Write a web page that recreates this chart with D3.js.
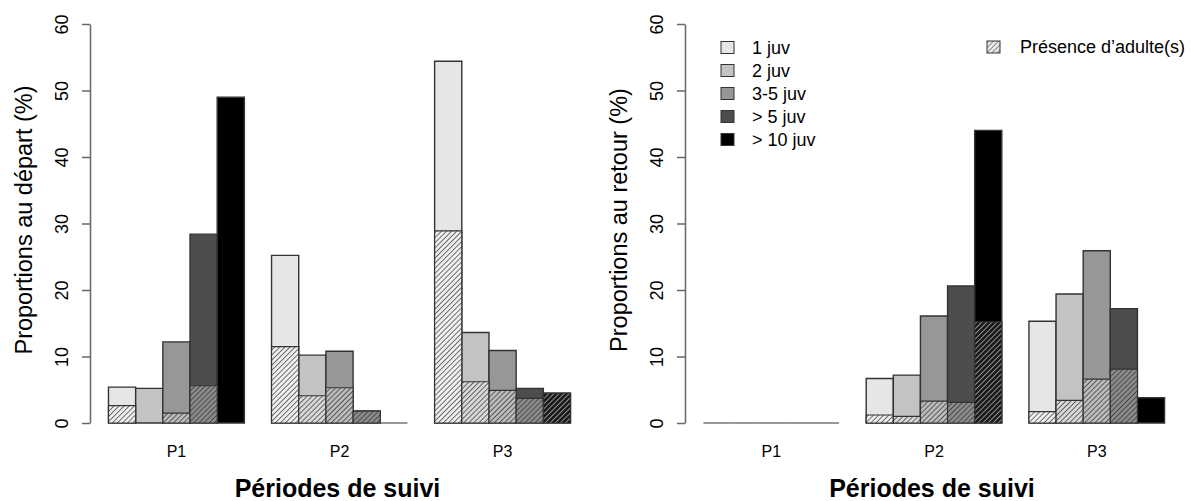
<!DOCTYPE html>
<html>
<head>
<meta charset="utf-8">
<script src="https://cdn.jsdelivr.net/npm/d3@7"></script>
<style>
  body { margin: 0; background: #fff; }
  text { font-family: "Liberation Sans", Arial, sans-serif; fill: #000; }
</style>
</head>
<body>
<div id="chart"></div>
<script>
(function() {
  var width = 1191, height = 501;

  var periods = ["P1", "P2", "P3"];
  var classes = ["1 juv", "2 juv", "3-5 juv", "> 5 juv", "> 10 juv"];
  var classColors = ["#e6e6e6", "#c3c3c3", "#979797", "#4d4d4d", "#000000"];
  var yTicks = [0, 10, 20, 30, 40, 50, 60];

  // proportions (%) per period, per class
  var departTotal = [[5.4, 5.2, 12.2, 28.4, 49.0], [25.2, 10.2, 10.8, 1.8, 0], [54.4, 13.6, 10.9, 5.2, 4.5]];
  var departAdult = [[2.6, 0, 1.5, 5.6, 0], [11.5, 4.1, 5.3, 1.8, 0], [28.9, 6.2, 4.9, 3.7, 4.5]];
  var retourTotal = [[0, 0, 0, 0, 0], [6.7, 7.2, 16.1, 20.6, 44.0], [15.3, 19.4, 25.9, 17.2, 3.8]];
  var retourAdult = [[0, 0, 0, 0, 0], [1.2, 1.0, 3.3, 3.1, 15.2], [1.7, 3.4, 6.6, 8.1, 0]];

  var svg = d3.select("#chart")
    .append("svg")
    .attr("width", width)
    .attr("height", height);

  // hatch patterns, one per class colour
  var defs = svg.append("defs");
  classColors.forEach(function(c, i) {
    var bg = c == "#000000" ? "#1a1a1a" : d3.interpolateRgb(c, "#ffffff")(0.35);
    var ln = c == "#000000" ? "#c8c8c8" : "#2a2a2a";
    var p = defs.append("pattern")
      .attr("id", "hatch" + i)
      .attr("patternUnits", "userSpaceOnUse")
      .attr("width", 3.6).attr("height", 3.6)
      .attr("patternTransform", "rotate(45)");
    p.append("rect").attr("width", 3.6).attr("height", 3.6).attr("fill", bg);
    p.append("line").attr("x1", 0).attr("y1", 0).attr("x2", 0).attr("y2", 3.6)
      .attr("stroke", ln).attr("stroke-width", 1.3);
  });
  var lp = defs.append("pattern")
    .attr("id", "hatchLegend")
    .attr("patternUnits", "userSpaceOnUse")
    .attr("width", 3.6).attr("height", 3.6)
    .attr("patternTransform", "rotate(45)");
  lp.append("rect").attr("width", 3.6).attr("height", 3.6).attr("fill", "#e8e8e8");
  lp.append("line").attr("x1", 0).attr("y1", 0).attr("x2", 0).attr("y2", 3.6)
    .attr("stroke", "#444").attr("stroke-width", 1.1);

  var yPositionScale = d3.scaleLinear().domain([0, 60]).range([423, 24]);

  function barPath(x0, x1, y0, y1) {
    return "M" + x0 + "," + y0 + "H" + x1 + "V" + y1 + "H" + x0 + "Z";
  }

  function panel(left, right, totals, adults, ylabel) {
    var g = svg.append("g");
    // R barplot layout: bars of width 1, one bar gap between groups
    var xPositionScale = d3.scaleLinear().domain([0.32, 18.68]).range([left, right]);

    var bars = [];
    periods.forEach(function(p, gi) {
      classes.forEach(function(c, ci) {
        bars.push({ g: gi, c: ci, pos: 1 + gi * 6 + ci, total: totals[gi][ci], adult: adults[gi][ci] });
      });
    });

    g.selectAll(".bar")
      .data(bars)
      .enter().append("path")
      .attr("class", "bar")
      .attr("d", function(d) {
        return barPath(xPositionScale(d.pos), xPositionScale(d.pos + 1), yPositionScale(0), yPositionScale(d.total));
      })
      .attr("fill", function(d) { return classColors[d.c]; })
      .attr("stroke", function(d) { return d.total == 0 ? "#777" : "#333"; })
      .attr("stroke-width", 1.4);

    g.selectAll(".hatch")
      .data(bars.filter(function(d) { return d.adult > 0; }))
      .enter().append("path")
      .attr("class", "hatch")
      .attr("d", function(d) {
        return barPath(xPositionScale(d.pos), xPositionScale(d.pos + 1), yPositionScale(0), yPositionScale(d.adult));
      })
      .attr("fill", function(d) { return "url(#hatch" + d.c + ")"; })
      .attr("stroke", "#333")
      .attr("stroke-width", 1.2);

    // group labels
    g.selectAll(".plabel")
      .data(periods)
      .enter().append("text")
      .attr("class", "plabel")
      .attr("x", function(d, i) { return xPositionScale(1 + i * 6 + 2.5); })
      .attr("y", 457)
      .attr("text-anchor", "middle")
      .attr("font-size", 16)
      .text(function(d) { return d; });

    var yAxis = d3.axisLeft(yPositionScale).tickValues(yTicks).tickSize(8).tickSizeOuter(0);
    var ax = g.append("g")
      .attr("class", "axis y-axis")
      .attr("transform", "translate(" + left + ",0)")
      .call(yAxis);
    ax.select(".domain").attr("stroke", "#666").attr("stroke-width", 1.5);
    ax.selectAll(".tick line").attr("stroke", "#666").attr("stroke-width", 1.5);
    ax.selectAll(".tick text")
      .attr("transform", "rotate(-90)")
      .attr("x", 0)
      .attr("y", -28)
      .attr("dy", "0.35em")
      .attr("text-anchor", "middle")
      .attr("font-size", 18)
      .attr("fill", "#000");

    g.append("text")
      .attr("transform", "translate(" + (left - 66) + "," + 220 + ") rotate(-90)")
      .attr("text-anchor", "middle")
      .attr("dy", "0.35em")
      .attr("font-size", 23.5)
      .text(ylabel);

    g.append("text")
      .attr("x", (left + right) / 2 - 2)
      .attr("y", 497)
      .attr("text-anchor", "middle")
      .attr("font-size", 25)
      .attr("font-weight", "bold")
      .text("Périodes de suivi");
  }

  panel(90, 589, departTotal, departAdult, "Proportions au départ (%)");
  panel(685, 1183, retourTotal, retourAdult, "Proportions au retour (%)");

  // legend
  var legend = svg.append("g").attr("transform", "translate(721,0)");
  var rows = legend.selectAll(".row")
    .data(classes)
    .enter().append("g")
    .attr("class", "row")
    .attr("transform", function(d, i) { return "translate(0," + (47.5 + i * 23) + ")"; });
  rows.append("rect")
    .attr("x", 0).attr("y", -6)
    .attr("width", 13).attr("height", 12)
    .attr("fill", function(d, i) { return classColors[i]; })
    .attr("stroke", "#333").attr("stroke-width", 1);
  rows.append("text")
    .attr("x", 31).attr("dy", "0.35em")
    .attr("font-size", 18)
    .text(function(d) { return d; });

  var adultLegend = svg.append("g").attr("transform", "translate(987,47)");
  adultLegend.append("rect")
    .attr("x", 0).attr("y", -6)
    .attr("width", 13).attr("height", 12)
    .attr("fill", "url(#hatchLegend)")
    .attr("stroke", "#333").attr("stroke-width", 1);
  adultLegend.append("text")
    .attr("x", 33).attr("dy", "0.35em")
    .attr("font-size", 18)
    .text("Présence d’adulte(s)");
})();
</script>
</body>
</html>
